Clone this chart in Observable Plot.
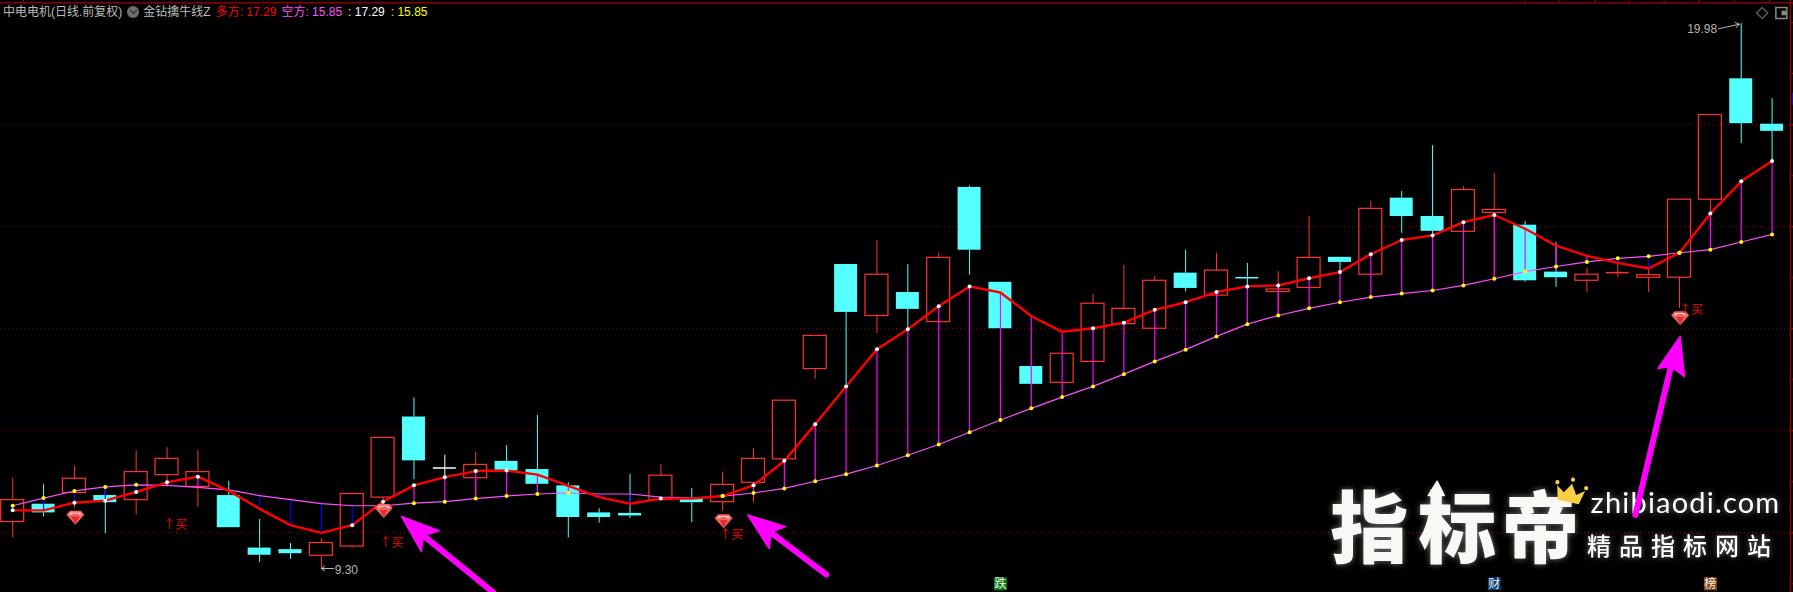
<!DOCTYPE html>
<html>
<head>
<meta charset="utf-8">
<script src="https://cdn.jsdelivr.net/npm/d3@7"></script>
<script src="https://cdn.jsdelivr.net/npm/@observablehq/plot@0.6"></script>
<style>
html,body{margin:0;padding:0;background:#000;overflow:hidden}
#wrap{position:relative;width:1793px;height:592px;overflow:hidden}
#wrap svg{display:block}
#head{position:absolute;left:3px;top:4px;font:12px/16px "Liberation Sans","Noto Sans CJK SC",sans-serif;color:#bcbcbc;white-space:nowrap}
#head span{display:inline-block}
#head .ico{width:12px;height:12px;border-radius:50%;background:#6e6e6e;position:relative;vertical-align:-2px;margin:0 4px 0 5px}
#head .ico:after{content:"";position:absolute;left:3.5px;top:2px;width:4px;height:4px;border:solid #222;border-width:0 1.5px 1.5px 0;transform:rotate(45deg)}
</style>
</head>
<body>
<div id="wrap">
<div id="head"><span>中电电机(日线.前复权)</span><span class="ico"></span><span>金钻擒牛线Z</span><span style="color:#f00;margin-left:5px">多方: 17.29</span><span style="color:#ff50ff;margin-left:5px">空方: 15.85</span><span style="color:#fff;margin-left:6px">: 17.29</span><span style="color:#ff0;margin-left:6px">: 15.85</span></div>
</div>
<script>
const opens = [10.21,10.56,10.78,10.73,10.64,11.13,10.90,10.73,9.70,9.67,9.55,9.73,10.69,12.27,11.27,11.07,11.40,11.24,10.92,10.39,10.38,10.64,10.67,10.60,10.98,11.44,13.21,15.26,14.25,14.71,14.13,16.77,14.91,13.26,12.94,13.35,14.09,14.00,15.09,14.65,15.01,14.72,14.80,15.40,15.06,16.56,16.20,15.90,16.27,16.03,15.11,14.94,15.09,15.00,15.00,16.53,18.90,18.01];
const closes = [10.64,10.39,11.06,10.59,11.19,11.45,11.19,10.10,9.56,9.59,9.80,10.76,11.86,11.41,11.27,11.33,11.21,10.95,10.30,10.30,10.33,11.12,10.59,10.94,11.45,12.59,13.86,14.32,15.06,14.38,15.39,15.54,14.00,12.91,13.51,14.49,14.39,14.94,14.79,15.14,15.00,14.77,15.39,15.30,16.35,16.20,15.91,16.72,16.33,14.94,15.00,15.06,15.10,15.05,16.53,18.19,18.02,17.87];
const highs = [11.07,10.95,11.30,10.91,11.61,11.67,11.61,11.01,10.26,9.79,9.88,10.76,11.86,12.64,11.52,11.58,11.71,12.30,10.98,10.47,11.15,11.34,10.87,11.19,11.65,12.59,13.86,15.26,15.73,15.26,15.48,16.80,14.91,13.26,13.51,14.67,15.24,15.03,15.54,15.48,15.28,15.12,16.20,15.40,16.50,16.69,17.59,16.79,17.05,16.10,15.69,15.18,15.33,15.29,16.53,18.19,19.98,18.51];
const lows = [9.90,10.31,10.48,9.98,10.35,10.89,10.50,10.10,9.42,9.48,9.30,9.70,10.52,11.04,11.04,10.67,11.21,10.82,9.90,10.19,10.28,10.64,10.20,10.42,10.59,11.26,13.01,12.89,13.91,14.00,14.13,15.05,14.00,12.91,12.94,13.35,14.09,14.00,14.72,14.65,14.74,14.29,14.80,15.11,15.06,15.87,15.85,15.90,14.98,14.91,14.81,14.71,15.00,14.71,14.40,16.00,17.63,17.29];
const bullLine = [10.44,10.44,10.59,10.63,10.80,10.99,11.10,10.82,10.47,10.15,10.00,10.15,10.61,10.93,11.09,11.21,11.22,11.14,10.92,10.70,10.57,10.67,10.67,10.72,10.93,11.41,12.13,12.87,13.60,13.99,14.44,14.83,14.71,14.25,13.94,14.01,14.12,14.37,14.52,14.72,14.83,14.85,14.99,15.11,15.46,15.74,15.83,16.09,16.23,15.96,15.63,15.43,15.29,15.18,15.49,16.26,16.89,17.29];
const bearLine = [10.53,10.68,10.82,10.90,10.94,10.93,10.89,10.84,10.73,10.65,10.57,10.53,10.53,10.58,10.61,10.67,10.72,10.76,10.78,10.76,10.76,10.70,10.68,10.72,10.78,10.87,11.01,11.15,11.32,11.52,11.73,11.97,12.21,12.44,12.66,12.87,13.11,13.36,13.59,13.85,14.09,14.26,14.40,14.52,14.62,14.69,14.75,14.85,14.98,15.12,15.22,15.31,15.38,15.42,15.49,15.55,15.70,15.85];
const gridPrices = [10,12,14,16,18];
const gemIdx = [2.03,12.02,23.03,54.02];
const gemPrice = [10.31,10.44,10.24,14.22];
const buyIdx = [5.27,12.27,23.28,54.37];
const buyPrice = [10.15,9.79,9.95,14.37];
const newsIdx = [32,48,55];
const newsText = ["跌","财","榜"];
const logoChars = ["指","标","帝"];
const logoIdx = [43.95,46.8,49.5];
const arrowHeadIdx = [[12.595,13.816,13.31,13.233],[23.81,25.04,24.56,24.51],[54.02,54.16,53.72,53.30]];
const arrowHeadPrice = [[10.32,10.04,9.945,9.64],[10.35,10.12,10.01,9.69],[13.85,13.06,13.26,13.22]];
const arrowTailIdx = [15.575,26.36,52.57];
const arrowTailPrice = [8.83,9.18,10.35];
const topTicks = [0.35,49.0,50.1,51.27,52.37,53.5,54.64,55.77,56.91];
const axisTicks = [9,10,11,12,13,14,15,16,17,18,19,20];

const candles = opens.map((o,i)=>({i,o,c:closes[i],h:highs[i],l:lows[i],bull:bullLine[i],bear:bearLine[i]}));
const RED="#ff3232",CY="#54ffff";
const col=d=>d.c>d.o?RED:d.c<d.o?CY:"#ffffff";
const doji=d=>Math.abs(d.c-d.o)<=0.021;
const BW=0.372;
const arrowHeads=arrowHeadIdx.flatMap((xs,k)=>xs.map((x,j)=>({k,x,y:arrowHeadPrice[k][j]})));
const arrowShafts=arrowTailIdx.flatMap((x,k)=>[{k,x:arrowHeadIdx[k][2],y:arrowHeadPrice[k][2]},{k,x,y:arrowTailPrice[k]}]);
const gems=gemIdx.map((x,i)=>({x,y:gemPrice[i]}));
const gemOuter={draw(c,s){const r=Math.sqrt(s/Math.PI);c.moveTo(-r,-.25*r);c.lineTo(-.6*r,-.7*r);c.lineTo(.6*r,-.7*r);c.lineTo(r,-.25*r);c.lineTo(0,.85*r);c.closePath();}};
const gemCore={draw(c,s){const r=Math.sqrt(s/Math.PI);c.moveTo(-.45*r,-.05*r);c.lineTo(.45*r,-.05*r);c.lineTo(0,.8*r);c.closePath();}};
const gemTop={draw(c,s){const r=Math.sqrt(s/Math.PI);c.moveTo(-.55*r,-.5*r);c.lineTo(.55*r,-.5*r);c.lineTo(.7*r,-.25*r);c.lineTo(.4*r,-.25*r);c.lineTo(.3*r,-.4*r);c.lineTo(-.3*r,-.4*r);c.lineTo(-.4*r,-.25*r);c.lineTo(-.7*r,-.25*r);c.closePath();}};
const crown={draw(c,s){const r=Math.sqrt(s/Math.PI);const P=[[-.72,.65],[-.95,-.3],[-.42,.08],[0,-.6],[.42,.08],[.95,-.3],[.72,.65]];P.forEach((p,i)=>i?c.lineTo(p[0]*r,p[1]*r):c.moveTo(p[0]*r,p[1]*r));c.closePath();[[-.98,-.5],[0,-.88],[.98,-.5]].forEach(p=>{c.moveTo(p[0]*r+.14*r,p[1]*r);c.arc(p[0]*r,p[1]*r,.14*r,0,Math.PI*2);});}};
const FONT='"Liberation Sans","Noto Sans CJK SC",sans-serif';
const CJK='"Noto Sans CJK SC",sans-serif';
const glow="drop-shadow(0 0 3px rgba(255,255,255,.45))";

const chart=Plot.plot({
  width:1793,height:592,margin:0,
  style:{background:"#000",fontFamily:FONT},
  x:{domain:[0,57],range:[12.2,1771.6],axis:null},
  y:{domain:[9.3,19.98],range:[568,23.2],axis:null},
  marks:[
    Plot.ruleY(gridPrices,{stroke:"#a00000",strokeDasharray:"1,3",strokeWidth:1}),
    Plot.ruleY([20.39],{stroke:"#a80000",strokeWidth:1.2}),
    Plot.ruleY([8.71],{stroke:"#c00000",strokeWidth:1.2}),
    Plot.ruleX([57.59],{stroke:"#a80000",strokeWidth:1.2}),
    Plot.ruleX(topTicks,{y1:20.39,y2:20.46,stroke:"#a80000"}),
    Plot.ruleY(axisTicks,{x1:57.59,x2:57.72,stroke:"#a80000"}),
    Plot.ruleX([57.69],{y1:18.38,y2:18.62,stroke:"#2020ff",strokeWidth:2}),
    // wicks
    Plot.ruleX(candles,{x:"i",y1:"h",y2:d=>Math.max(d.o,d.c),stroke:col}),
    Plot.ruleX(candles,{x:"i",y1:"l",y2:d=>Math.min(d.o,d.c),stroke:col}),
    // bodies
    Plot.rect(candles.filter(d=>!doji(d)&&d.c>d.o),{x1:d=>d.i-BW,x2:d=>d.i+BW,y1:"o",y2:"c",stroke:RED,strokeWidth:1.2,fill:"none"}),
    Plot.rect(candles.filter(d=>!doji(d)&&d.c<d.o),{x1:d=>d.i-BW,x2:d=>d.i+BW,y1:"o",y2:"c",fill:CY}),
    Plot.ruleY(candles.filter(doji),{y:"c",x1:d=>d.i-BW,x2:d=>d.i+BW,stroke:col,strokeWidth:1.5}),
    // bull / bear connectors
    Plot.ruleX(candles,{x:"i",y1:"bull",y2:"bear",stroke:d=>d.bull>d.bear?"#ff00ff":"#0000ff",strokeWidth:1.2}),
    Plot.line(candles,{x:"i",y:"bear",stroke:"#ff50ff",strokeWidth:1.2}),
    Plot.line(candles,{x:"i",y:"bull",stroke:"#ff0000",strokeWidth:2.4}),
    Plot.dot(candles.filter((d,i)=>i===0||d.bull>bullLine[i-1]),{x:"i",y:"bull",r:2,fill:"#f0ffff"}),
    Plot.dot(candles.filter((d,i)=>i===0||d.bear>bearLine[i-1]),{x:"i",y:"bear",r:2,fill:"#ffff00"}),
    // signals
    Plot.dot(gems,{x:"x",y:"y",r:9,symbol:gemOuter,fill:"#f4645f"}),
    Plot.dot(gems,{x:"x",y:"y",r:9,symbol:gemCore,fill:"#dd2f30"}),
    Plot.dot(gems,{x:"x",y:"y",r:9,symbol:gemTop,fill:"#ffc4c0"}),
    Plot.text(buyIdx,{x:d=>d,y:(d,i)=>buyPrice[i],text:()=>"↑买",fill:"#e00a0a",fontSize:12,fontFamily:CJK}),
    // extreme labels
    Plot.arrow([0],{x1:()=>10.39,y1:()=>9.30,x2:()=>10.0,y2:()=>9.30,stroke:"#b8b8b8",strokeWidth:1,headLength:7,headAngle:70,bend:false}),
    Plot.text([9.27],{x:()=>10.43,y:d=>d,text:()=>"9.30",fill:"#b4b4b4",fontSize:12,textAnchor:"start"}),
    Plot.text([19.87],{x:()=>55.22,y:d=>d,text:()=>"19.98",fill:"#b4b4b4",fontSize:12,textAnchor:"end"}),
    Plot.arrow([0],{x1:()=>55.26,y1:()=>19.88,x2:()=>55.94,y2:()=>19.97,stroke:"#b8b8b8",strokeWidth:1,headLength:7,headAngle:70,bend:false}),
    // top-right icons
    Plot.dot([20.19],{x:()=>56.68,y:d=>d,symbol:"diamond2",r:5,stroke:"#5a5a5a",fill:"none"}),
    Plot.dot([20.19],{x:()=>57.3,y:d=>d,symbol:"square",r:6.2,stroke:"#8a8a8a",fill:"none"}),
    Plot.dot([20.19],{x:()=>57.38,y:d=>d,symbol:"square",r:2.6,fill:"#8a8a8a"}),
    // news tags
    Plot.dot(newsIdx,{x:d=>d,y:()=>9,symbol:"square",r:7.3,fill:(d,i)=>["#0a7a12","#0a3d70","#8a4a10"][i]}),
    Plot.text(newsIdx,{x:d=>d,y:()=>9,text:(d,i)=>newsText[i],fill:"#f0f0f0",fontSize:12,fontFamily:CJK}),
    // watermark
    Plot.text(logoChars,{x:(d,i)=>logoIdx[i],y:()=>10.02,text:d=>d,fill:"#f8f9f5",fontSize:78,fontWeight:900,fontFamily:CJK,imageFilter:glow}),
    Plot.line([{x:46.15,y:11.01},{x:45.86,y:10.73},{x:46.38,y:10.73}],{x:"x",y:"y",fill:"#f8f9f5",stroke:"#f8f9f5",curve:"linear-closed"}),
    Plot.dot([10.79],{x:()=>50.46,y:d=>d,symbol:crown,r:15,rotate:12,fill:"#f8cf45"}),
    Plot.text(["zhibiaodi.com"],{x:()=>57.27,y:()=>10.57,text:d=>d,fill:"#ffffff",fontSize:29,fontFamily:"Lato,sans-serif",textAnchor:"end",imageFilter:glow}),
    Plot.text(["精品指标网站"],{x:()=>51.0,y:()=>9.71,text:d=>d,fill:"#ffffff",fontSize:24,fontWeight:500,fontFamily:CJK,textAnchor:"start",imageFilter:glow}),
    // annotation arrows
    Plot.line(arrowShafts,{x:"x",y:"y",z:"k",stroke:"#ff00ff",strokeWidth:6,strokeLinecap:"round"}),
    Plot.line(arrowHeads,{x:"x",y:"y",z:"k",fill:"#ff00ff",stroke:"#ff00ff",curve:"linear-closed"})
  ]
});
d3.select(chart).selectAll("text").each(function(){
  const t=this.textContent;
  if(t==="zhibiaodi.com")this.style.letterSpacing="1.2px";
  if(t==="精品指标网站")this.style.letterSpacing="8px";
});
document.getElementById("wrap").prepend(chart);
</script>
</body>
</html>
